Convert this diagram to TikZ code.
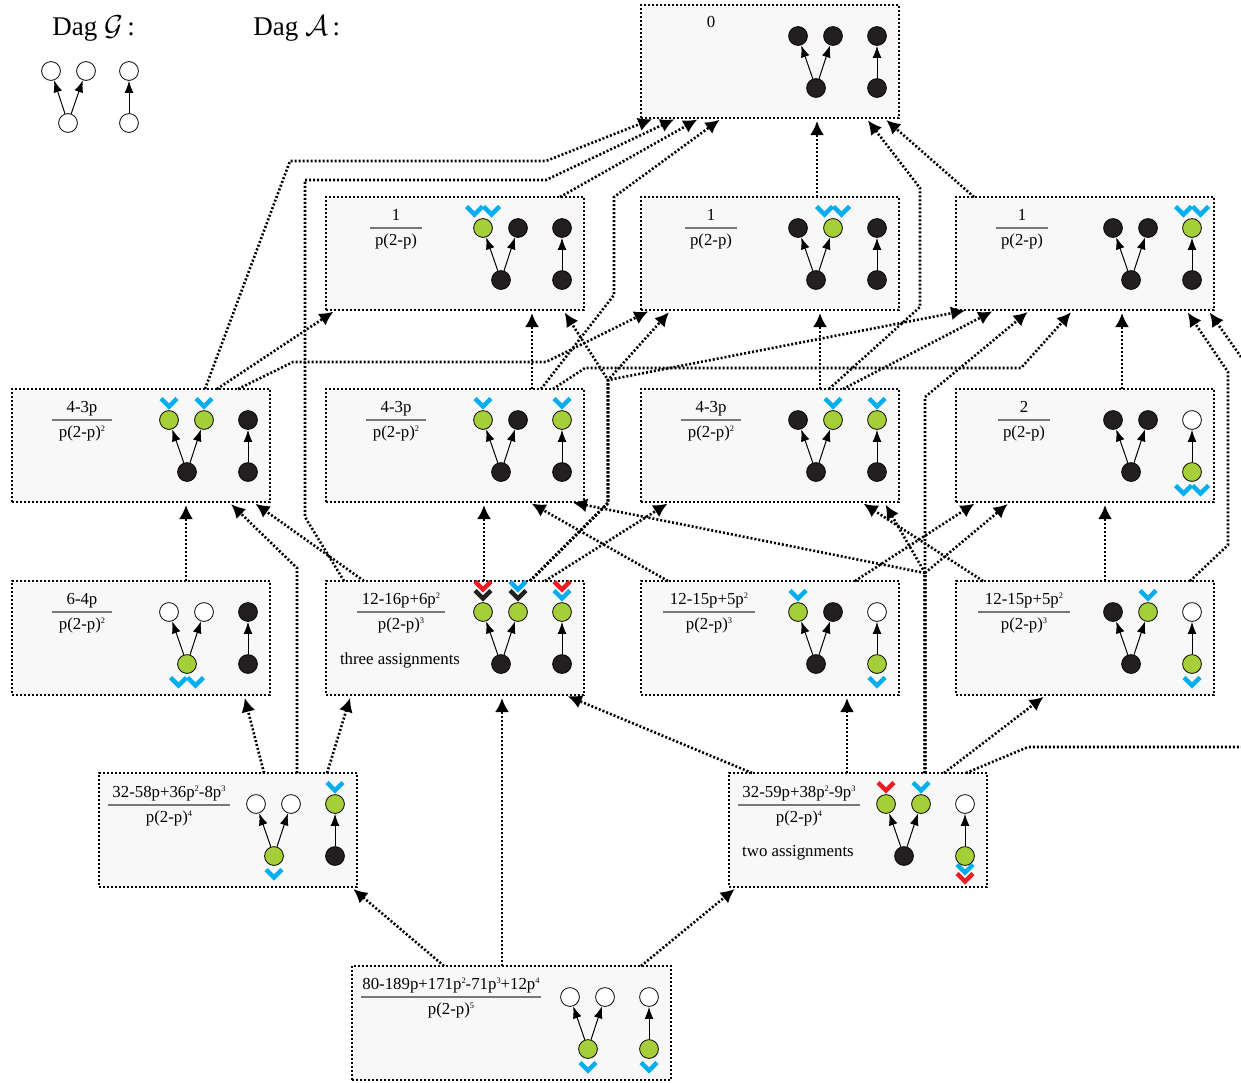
\documentclass[tikz,border=0pt]{standalone}
\usepackage{fontspec}
\setmainfont{Liberation Serif}
\usetikzlibrary{arrows.meta,calc,shapes.geometric}
\definecolor{boxfill}{RGB}{248,248,248}
\definecolor{dgreen}{RGB}{166,206,57}
\definecolor{cblue}{RGB}{0,174,239}
\definecolor{cred}{RGB}{237,28,36}
\definecolor{nblack}{RGB}{35,31,32}
\definecolor{rulegray}{RGB}{120,120,120}
\tikzset{
  stbox/.style={rectangle, draw=black, fill=boxfill, line width=1.3pt, dash pattern=on 1pt off 1pt, minimum width=129pt, minimum height=56.5pt, inner sep=0pt, outer sep=0pt},
  conn/.style={line width=1.3pt, dash pattern=on 1pt off 1pt, -{Latex[length=7pt,width=7pt]}, shorten >=1.5pt},
  connline/.style={line width=1.3pt, dash pattern=on 1pt off 1pt},
  dn/.style={circle, draw=black, line width=0.4pt, minimum size=9.4pt, inner sep=0pt},
  K/.style={dn, fill=nblack}, Gn/.style={dn, fill=dgreen}, Wt/.style={dn, fill=white},
  me/.style={line width=0.5pt, -{Latex[length=6pt,width=4.4pt]}},
  chev/.style={line width=2.2pt, line join=miter},
  lbl/.style={font=\fontsize{8.4}{10}\selectfont, anchor=base, inner sep=0pt},
}
\newcommand\spx[1]{\raisebox{0.75ex}{\fontsize{4.2}{4}\selectfont #1}}
\newcommand\minidag[6]{%
  \node[#2] (#1b) at ($(#1.north east)+(-101,31)$) {};
  \node[#3] (#1c) at ($(#1.north east)+(-66,31)$) {};
  \node[#4] (#1a) at ($(#1.north east)+(-83,83)$) {};
  \node[#5] (#1e) at ($(#1.north east)+(-22,31)$) {};
  \node[#6] (#1d) at ($(#1.north east)+(-22,83)$) {};
  \draw[me] (#1a) -- (#1b);
  \draw[me] (#1a) -- (#1c);
  \draw[me] (#1d) -- (#1e);}
\newcommand\chvx[4]{%
  \draw[chev,#4] ($(#1)+(#2-8,#3-4.5)$) -- ($(#1)+(#2,#3+3.5)$) -- ($(#1)+(#2+8,#3-4.5)$);}
\newcommand\chw[3]{\chvx{#1}{-8.5}{#2}{#3}\chvx{#1}{8.5}{#2}{#3}}
\newcommand\fr[6]{%
  \node[lbl] (#1num) at (#2,#3-8) {#5};
  \node[lbl] (#1den) at (#2,#3+17) {#6};
  \draw[rulegray,line width=0.9pt] (#2-#4,#3) -- (#2+#4,#3);}
\begin{document}
\begin{tikzpicture}[x=0.5pt,y=-0.5pt]
\fill[white] (0,0) rectangle (1241,1082);
\useasboundingbox (0,0) rectangle (1241,1082);
% legend
\node[font=\fontsize{13.5}{16}\selectfont, anchor=base west, inner sep=0pt] (lgG) at (52,35) {Dag $\mathcal{G}$\,:};
\node[font=\fontsize{13.5}{16}\selectfont, anchor=base west, inner sep=0pt] (lgA) at (253,35) {Dag $\mathcal{A}$\,:};
\node[Wt] (gb) at (51,71) {};
\node[Wt] (gc) at (86,71) {};
\node[Wt] (ga) at (68,123) {};
\node[Wt] (ge) at (129,71) {};
\node[Wt] (gd) at (129,123) {};
\draw[me] (ga) -- (gb); \draw[me] (ga) -- (gc); \draw[me] (gd) -- (ge);
% boxes
\node[stbox] (B0) at (770,61.5) {};
\node[stbox] (B1a) at (455,253.5) {};
\node[stbox] (B1b) at (770,253.5) {};
\node[stbox] (B1c) at (1085,253.5) {};
\node[stbox] (B2a) at (141,445.5) {};
\node[stbox] (B2b) at (455,445.5) {};
\node[stbox] (B2c) at (770,445.5) {};
\node[stbox] (B2d) at (1085,445.5) {};
\node[stbox,minimum height=57pt] (B3a) at (141,638) {};
\node[stbox,minimum height=57pt] (B3b) at (455,638) {};
\node[stbox,minimum height=57pt] (B3c) at (770,638) {};
\node[stbox,minimum height=57pt] (B3d) at (1085,638) {};
\node[stbox,minimum height=57pt] (B4a) at (228,830) {};
\node[stbox,minimum height=57pt] (B4b) at (858,830) {};
\node[stbox,minimum height=57pt,minimum width=159.5pt] (B5) at (511.5,1023) {};
% connectors into B0
\draw[conn] ($(B2a.north west)+(193,0)$) -- (290,161) -- (546,161) -- ($(B0.south west)+(14,0)$);
\draw[conn] ($(B3b.north west)+(18,0)$) -- (305,517) -- (305,180) -- (546,180) -- ($(B0.south west)+(36,0)$);
\draw[conn] ($(B1a.north west)+(234,0)$) -- ($(B0.south west)+(59,0)$);
\draw[conn] ($(B2b.north west)+(215,0)$) -- (614,295) -- (614,197) -- ($(B0.south west)+(81,0)$);
\draw[conn] ($(B1b.north west)+(176,0)$) -- ($(B0.south west)+(176,0)$);
\draw[conn] ($(B2c.north west)+(188,0)$) -- (920,307) -- (920,188) -- ($(B0.south west)+(225,0)$);
\draw[conn] ($(B1c.north west)+(18,0)$) -- ($(B0.south west)+(243,0)$);
% into B1a
\draw[conn] ($(B2a.north west)+(205,0)$) -- ($(B1a.south west)+(10,0)$);
\draw[conn] ($(B2b.north west)+(206,0)$) -- ($(B1a.south west)+(206,0)$);
\draw[conn] ($(B3b.north west)+(204,0)$) -- (608,503) -- (608,380) -- ($(B1a.south west)+(237,0)$);
% into B1b
\draw[conn] ($(B2a.north west)+(226,0)$) -- (293,362) -- (546,362) -- ($(B1b.south west)+(10,0)$);
\draw[conn] ($(B3b.north west)+(204,0)$) -- (608,503) -- (608,380) -- ($(B1b.south west)+(30,0)$);
\draw[conn] ($(B2c.north west)+(179,0)$) -- ($(B1b.south west)+(179,0)$);
% into B1c
\draw[conn] ($(B3b.north west)+(204,0)$) -- (608,503) -- (608,380) -- ($(B1c.south west)+(12,0)$);
\draw[conn] ($(B2c.north west)+(202,0)$) -- ($(B1c.south west)+(39,0)$);
\draw[conn] ($(B4b.north west)+(196,0)$) -- (925,397) -- ($(B1c.south west)+(74,0)$);
\draw[conn] ($(B2b.north west)+(227,0)$) -- (585,368) -- (1021,368) -- ($(B1c.south west)+(117,0)$);
\draw[conn] ($(B2d.north west)+(166,0)$) -- ($(B1c.south west)+(166,0)$);
\draw[conn] ($(B3d.north west)+(234,0)$) -- (1228,545) -- (1228,372) -- ($(B1c.south west)+(230,0)$);
\coordinate (offR1) at (1241,357);
\draw[conn] (offR1) -- ($(B1c.south west)+(252,0)$);
% into B2a
\draw[conn] ($(B3a.north west)+(174,0)$) -- ($(B2a.south west)+(174,0)$);
\draw[conn] ($(B4a.north west)+(198,0)$) -- (297,568) -- ($(B2a.south west)+(217,0)$);
\draw[conn] ($(B3b.north west)+(38,0)$) -- ($(B2a.south west)+(241,0)$);
% into B2b
\draw[conn] ($(B3b.north west)+(158,0)$) -- ($(B2b.south west)+(158,0)$);
\draw[conn] ($(B3c.north west)+(27,0)$) -- ($(B2b.south west)+(203,0)$);
\draw[conn] ($(B4b.north west)+(196,0)$) -- (925,573) -- ($(B2b.south west)+(244,0)$);
% into B2c
\draw[conn] ($(B3b.north west)+(219,0)$) -- ($(B2c.south west)+(29,0)$);
\draw[conn] ($(B3d.north west)+(27,0)$) -- ($(B2c.south west)+(220,0)$);
\draw[conn] ($(B4b.north west)+(196,0)$) -- (925,573) -- ($(B2c.south west)+(243,0)$);
% into B2d
\draw[conn] ($(B3c.north west)+(214,0)$) -- ($(B2d.south west)+(21,0)$);
\draw[conn] ($(B4b.north west)+(196,0)$) -- (925,573) -- ($(B2d.south west)+(54,0)$);
\draw[conn] ($(B3d.north west)+(149,0)$) -- ($(B2d.south west)+(149,0)$);
% into row 3
\draw[conn] ($(B4a.north west)+(165,0)$) -- ($(B3a.south west)+(232,0)$);
\draw[conn] ($(B4a.north west)+(228,0)$) -- ($(B3b.south west)+(25,0)$);
\draw[conn] ($(B5.north west)+(150,0)$) -- ($(B3b.south west)+(176,0)$);
\draw[conn] ($(B4b.north west)+(23,0)$) -- ($(B3b.south west)+(239,0)$);
\draw[conn] ($(B4b.north west)+(118,0)$) -- ($(B3c.south west)+(206,0)$);
\draw[conn] ($(B4b.north west)+(215,0)$) -- ($(B3d.south west)+(90,0)$);
\coordinate (offR2) at (1241,747);
\draw[connline] ($(B4b.north west)+(237,0)$) -- (1028,747) -- (offR2);
% into row 4
\draw[conn] ($(B5.north west)+(92,0)$) -- ($(B4a.south west)+(252,0)$);
\draw[conn] ($(B5.north west)+(289,0)$) -- ($(B4b.south west)+(8,0)$);
% labels
\node[lbl] (B0num) at (711,27) {0};
\fr{B1a}{396}{228}{26}{1}{p(2-p)}
\fr{B1b}{711}{228}{26}{1}{p(2-p)}
\fr{B1c}{1022}{228}{26}{1}{p(2-p)}
\fr{B2a}{82}{420}{30}{4-3p}{p(2-p)\spx{2}}
\fr{B2b}{396}{420}{30}{4-3p}{p(2-p)\spx{2}}
\fr{B2c}{711}{420}{30}{4-3p}{p(2-p)\spx{2}}
\fr{B2d}{1024}{420}{26}{2}{p(2-p)}
\fr{B3a}{82}{612}{30}{6-4p}{p(2-p)\spx{2}}
\fr{B3b}{401}{612}{44}{12-16p+6p\spx{2}}{p(2-p)\spx{3}}
\fr{B3c}{709}{612}{46}{12-15p+5p\spx{2}}{p(2-p)\spx{3}}
\fr{B3d}{1024}{612}{46}{12-15p+5p\spx{2}}{p(2-p)\spx{3}}
\fr{B4a}{169}{805}{61}{32-58p+36p\spx{2}-8p\spx{3}}{p(2-p)\spx{4}}
\fr{B4b}{799}{805}{61}{32-59p+38p\spx{2}-9p\spx{3}}{p(2-p)\spx{4}}
\fr{B5}{451}{997}{90}{80-189p+171p\spx{2}-71p\spx{3}+12p\spx{4}}{p(2-p)\spx{5}}
\node[lbl] (B3btxt) at (400,664) {three assignments};
\node[lbl] (B4btxt) at (798,856) {two assignments};
% mini dags
\minidag{B0}{K}{K}{K}{K}{K}
\minidag{B1a}{Gn}{K}{K}{K}{K}
\minidag{B1b}{K}{Gn}{K}{K}{K}
\minidag{B1c}{K}{K}{K}{Gn}{K}
\minidag{B2a}{Gn}{Gn}{K}{K}{K}
\minidag{B2b}{Gn}{K}{K}{Gn}{K}
\minidag{B2c}{K}{Gn}{K}{Gn}{K}
\minidag{B2d}{K}{K}{K}{Wt}{Gn}
\minidag{B3a}{Wt}{Wt}{Gn}{K}{K}
\minidag{B3b}{Gn}{Gn}{K}{Gn}{K}
\minidag{B3c}{Gn}{K}{K}{Wt}{Gn}
\minidag{B3d}{K}{Gn}{K}{Wt}{Gn}
\minidag{B4a}{Wt}{Wt}{Gn}{Gn}{K}
\minidag{B4b}{Gn}{Gn}{K}{Wt}{Gn}
\minidag{B5}{Wt}{Wt}{Gn}{Wt}{Gn}
% chevrons
\chw{B1ab}{-17}{cblue}
\chw{B1bc}{-17}{cblue}
\chw{B1ce}{-17}{cblue}
\chvx{B2ab}{0}{-17}{cblue}\chvx{B2ac}{0}{-17}{cblue}
\chvx{B2bb}{0}{-17}{cblue}\chvx{B2be}{0}{-17}{cblue}
\chvx{B2cc}{0}{-17}{cblue}\chvx{B2ce}{0}{-17}{cblue}
\chw{B2dd}{18}{cblue}
\chw{B3aa}{18}{cblue}
\chvx{B3bb}{0}{-26}{cred}\chvx{B3bb}{0}{-17}{nblack}
\chvx{B3bc}{0}{-26}{cblue}\chvx{B3bc}{0}{-17}{nblack}
\chvx{B3be}{0}{-26}{cred}\chvx{B3be}{0}{-17}{cblue}
\chvx{B3cb}{0}{-17}{cblue}\chvx{B3cd}{0}{18}{cblue}
\chvx{B3dc}{0}{-17}{cblue}\chvx{B3dd}{0}{18}{cblue}
\chvx{B4aa}{0}{18}{cblue}\chvx{B4ae}{0}{-17}{cblue}
\chvx{B4bb}{0}{-17}{cred}\chvx{B4bc}{0}{-17}{cblue}
\chvx{B4bd}{0}{13}{cblue}\chvx{B4bd}{0}{22}{cred}
\chvx{B5a}{0}{18}{cblue}\chvx{B5d}{0}{18}{cblue}
\end{tikzpicture}
\end{document}
